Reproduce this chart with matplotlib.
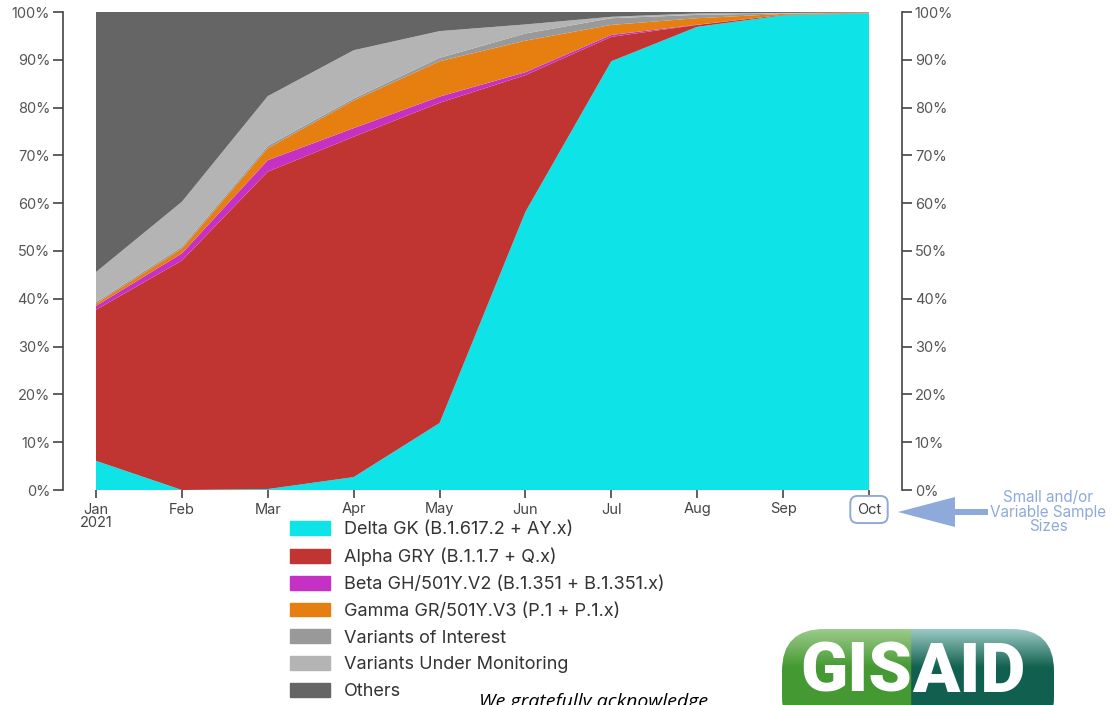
import matplotlib
matplotlib.use("Agg")
import matplotlib.pyplot as plt
import matplotlib.patches as mpatches
import numpy as np

plt.rcParams['font.family'] = ['Inter', 'DejaVu Sans']

months = ['Jan\n2021', 'Feb', 'Mar', 'Apr', 'May', 'Jun', 'Jul', 'Aug', 'Sep', 'Oct']
labels = ['Delta GK (B.1.617.2 + AY.x)', 'Alpha GRY (B.1.1.7 + Q.x)',
          'Beta GH/501Y.V2 (B.1.351 + B.1.351.x)', 'Gamma GR/501Y.V3 (P.1 + P.1.x)',
          'Variants of Interest', 'Variants Under Monitoring', 'Others']
colors = ['#0ee3e8', '#c03431', '#c431c4', '#e67e10', '#999999', '#b4b4b4', '#656565']

# shares in percent per month
delta = [6.1, 0.0, 0.2, 2.7, 14.0, 58.2, 89.7, 96.9, 99.3, 99.7]
alpha = [31.6, 48.0, 66.4, 71.2, 67.0, 28.6, 5.1, 0.4, 0.1, 0.0]
beta = [0.8, 1.5, 2.4, 1.8, 1.3, 0.6, 0.4, 0.05, 0.0, 0.0]
gamma = [0.5, 1.0, 2.5, 5.8, 7.4, 6.6, 2.1, 1.35, 0.2, 0.1]
voi = [0.3, 0.4, 0.5, 0.4, 0.7, 1.5, 1.4, 0.7, 0.1, 0.05]
vum = [6.3, 9.4, 10.4, 10.1, 5.6, 1.9, 0.3, 0.3, 0.1, 0.05]
others = [100 - sum(v) for v in zip(delta, alpha, beta, gamma, voi, vum)]
series = [delta, alpha, beta, gamma, voi, vum, others]

W, H = 1112, 705
fig = plt.figure(figsize=(W / 100, H / 100), dpi=100)

def fx(px):
    return px / W

def fy(py):
    return 1 - py / H

ax = fig.add_axes([fx(96), fy(490), fx(869) - fx(96), fy(12) - fy(490)])
x = np.arange(len(months))
ax.stackplot(x, *series, colors=colors, linewidth=0)
ax.set_xlim(0, len(months) - 1)
ax.set_ylim(0, 100)

tc = '#444444'
for s in ['top', 'bottom']:
    ax.spines[s].set_visible(False)
for s in ['left', 'right']:
    ax.spines[s].set_position(('outward', 24))
    ax.spines[s].set_color(tc)
    ax.spines[s].set_linewidth(1.2)

yt = np.arange(0, 101, 10)
ax.set_yticks(yt)
ax.set_yticklabels([f'{v}%' for v in yt])
ax.tick_params(axis='y', which='both', left=True, right=True, labelleft=True, labelright=True,
               length=7, width=1.2, color=tc, labelsize=10.5, labelcolor='#555555', pad=2)
ax.set_xticks(x)
ax.set_xticklabels(months)
ax.tick_params(axis='x', length=6, width=1.2, color=tc, labelsize=10.5, labelcolor='#444444', pad=3)
for lab in ax.get_xticklabels():
    lab.set_linespacing(0.95)
oct_lab = ax.get_xticklabels()[-1]
oct_lab.set_bbox(dict(boxstyle='round,pad=0.45,rounding_size=0.5', fc='white', ec='#8eaadb', lw=1.4))

# legend
handles = [mpatches.Patch(color=c, label=l) for c, l in zip(colors, labels)]
fig.legend(handles=handles, loc='upper left', bbox_to_anchor=(fx(281), fy(512)), frameon=False,
           fontsize=13, handlelength=2.2, handleheight=0.8, handletextpad=0.8,
           labelspacing=0.53, labelcolor='#333333', borderpad=0)

# annotation arrow
acol = '#8eaadb'
arrow = mpatches.Polygon([(fx(898), fy(512)), (fx(955), fy(497)), (fx(955), fy(509)),
                          (fx(988), fy(509)), (fx(988), fy(515)), (fx(955), fy(515)),
                          (fx(955), fy(527))], closed=True, fc=acol, ec='none',
                         transform=fig.transFigure)
fig.add_artist(arrow)
fig.text(fx(1048), fy(512), 'Small and/or\nVariable Sample\nSizes', ha='center', va='center',
         color=acol, fontsize=11, linespacing=0.92)

# GISAID logo
lx0, lx1, ly0, ly1 = 782, 1060, 629, 705
lax = fig.add_axes([fx(lx0), fy(ly1), fx(lx1) - fx(lx0), fy(ly0) - fy(ly1)])
lax.set_axis_off()
lax.set_xlim(lx0, lx1)
lax.set_ylim(ly1, ly0)
pw, ph = 272, 110
img = np.zeros((100, 280, 3))
t = np.linspace(0, 1, 100)[:, None]
green_top, green_bot = np.array([0.62, 0.80, 0.55]), np.array([0.27, 0.60, 0.20])
teal_top, teal_bot = np.array([0.62, 0.80, 0.78]), np.array([0.07, 0.38, 0.31])
w = np.clip(t / 0.35, 0, 1)
gcol = green_top * (1 - w) + green_bot * w
tcol = teal_top * (1 - w) + teal_bot * w
split = int((912 - 782) / 272 * 280)
img[:, :split, :] = gcol[:, None, :]
img[:, split:, :] = tcol[:, None, :]
im = lax.imshow(img, extent=(782, 782 + pw, 629 + ph, 629), aspect='auto', interpolation='bilinear')
pill = mpatches.FancyBboxPatch((782, 629), pw, ph, boxstyle='round,pad=0,rounding_size=42',
                               fc='none', ec='none', transform=lax.transData)
lax.add_patch(pill)
im.set_clip_path(pill)
lax.text(912, 692, 'GIS', ha='right', va='baseline', color='white', fontsize=50,
         fontweight='black', family='Roboto')
lax.text(912, 692, 'AID', ha='left', va='baseline', color='white', fontsize=50,
         fontweight='black', family='Roboto')

fig.text(fx(594), fy(693), 'We gratefully acknowledge', ha='center', va='top', color='black',
         fontsize=14, style='italic', family='Open Sans')

fig.savefig('out.png', dpi=100)
